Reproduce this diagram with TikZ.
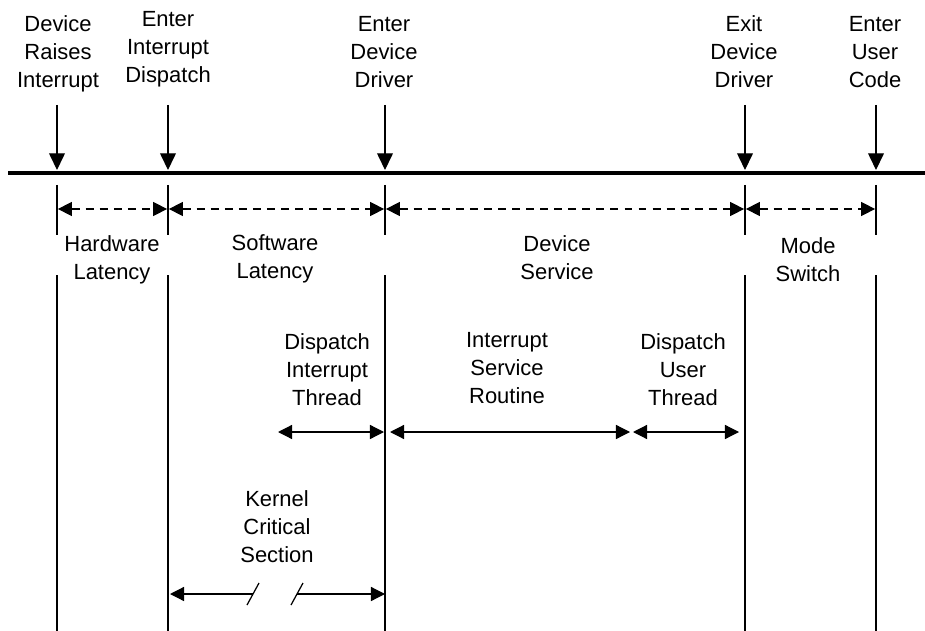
\documentclass[tikz,border=0pt]{standalone}
\usepackage{fontspec}
\setmainfont{Liberation Sans}
\usetikzlibrary{arrows.meta}

\tikzset{
  lbl/.style={align=center, inner sep=0pt, font=\fontsize{12.5}{16}\selectfont},
  down/.style={-{Triangle[length=9.5pt,width=9pt]}, line width=0.7pt},
  span/.style={{Triangle[length=8pt,width=8pt]}-{Triangle[length=8pt,width=8pt]}, line width=0.7pt},
  half/.style={-{Triangle[length=8pt,width=8pt]}, line width=0.7pt},
  gap/.style={span, dashed, dash pattern=on 4.5pt off 3.5pt, shorten <=0.5pt, shorten >=0.5pt},
  tick/.style={line width=0.9pt},
}

\begin{document}
\begin{tikzpicture}[x=0.02cm, y=-0.02cm]
  \useasboundingbox (0,0) rectangle (925,631);

  % time line
  \coordinate (l) at (8,173);
  \coordinate (r) at (925,173);
  \draw[line width=2.8pt] (l) -- (r);

  \foreach \n/\x in {a/57,b/168,c/385,d/745,e/876}{
    \coordinate (\n) at (\x,170);
    \coordinate (\n0) at (\x,105);
    \coordinate (\n1) at (\x,185);
    \coordinate (\n2) at (\x,235);
    \coordinate (\n3) at (\x,275);
    \coordinate (\n4) at (\x,631);
    \coordinate (\n5) at (\x,209);
    \draw[down] (\n0) -- (\n);
    \draw[tick] (\n1) -- (\n2) (\n3) -- (\n4);
  }

  % events
  \node[lbl] (raise) at (58,54) {Device\\Raises\\Interrupt};
  \node[lbl] (dispatch) at (168,49) {Enter\\Interrupt\\Dispatch};
  \node[lbl] (enter) at (384,52) {Enter\\Device\\Driver};
  \node[lbl] (exit) at (744,52) {Exit\\Device\\Driver};
  \node[lbl] (user) at (875,52) {Enter\\User\\Code};

  % latencies
  \draw[gap] (a5) -- (b5);
  \draw[gap] (b5) -- (c5);
  \draw[gap] (c5) -- (d5);
  \draw[gap] (d5) -- (e5);
  \node[lbl] (hw) at (112,260) {Hardware\\Latency};
  \node[lbl] (sw) at (275,259) {Software\\Latency};
  \node[lbl] (ds) at (557,258) {Device\\Service};
  \node[lbl] (ms) at (808,260) {Mode\\Switch};

  % device service
  \coordinate (dit0) at (278,432);
  \coordinate (dit1) at (384,432);
  \coordinate (isr0) at (390,432);
  \coordinate (isr1) at (630,432);
  \coordinate (dut0) at (633,432);
  \coordinate (dut1) at (739,432);
  \draw[span] (dit0) -- (dit1);
  \draw[span] (isr0) -- (isr1);
  \draw[span] (dut0) -- (dut1);
  \node[lbl] (dit) at (327,370) {Dispatch\\Interrupt\\Thread};
  \node[lbl] (isr) at (507,368) {Interrupt\\Service\\Routine};
  \node[lbl] (dut) at (683,370) {Dispatch\\User\\Thread};

  % kernel
  \coordinate (k0) at (170,594);
  \coordinate (k1) at (253,594);
  \coordinate (k2) at (297,594);
  \coordinate (k3) at (385,594);
  \draw[half] (k1) -- (k0);
  \draw[half] (k2) -- (k3);
  \draw[line width=0.7pt] (k1) ++(-6,11) -- ++(12,-22) (k2) ++(-6,11) -- ++(12,-22);
  \node[lbl] (ks) at (277,527) {Kernel\\Critical\\Section};

\end{tikzpicture}
\end{document}
